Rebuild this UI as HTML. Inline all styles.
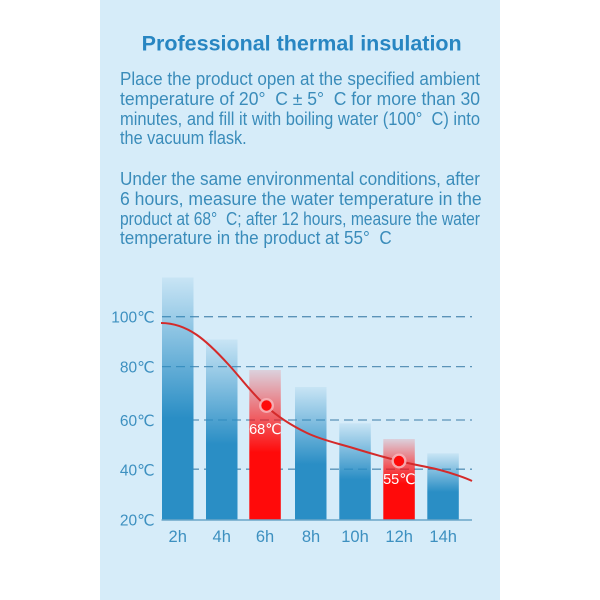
<!DOCTYPE html>
<html>
<head>
<meta charset="utf-8">
<style>
html,body{margin:0;padding:0;background:#fff;}
svg{display:block;}
</style>
</head>
<body>
<svg width="600" height="600" viewBox="0 0 600 600" xmlns="http://www.w3.org/2000/svg">
  <defs>
    <linearGradient id="gb" x1="0" y1="0" x2="0" y2="1">
      <stop offset="0" stop-color="#2a8ec5" stop-opacity="0.08"/>
      <stop offset="0.58" stop-color="#2a8ec5" stop-opacity="1"/>
      <stop offset="1" stop-color="#2a8ec5" stop-opacity="1"/>
    </linearGradient>
    <linearGradient id="gr" x1="0" y1="0" x2="0" y2="1">
      <stop offset="0" stop-color="#ff0a0a" stop-opacity="0.12"/>
      <stop offset="0.55" stop-color="#ff0a0a" stop-opacity="1"/>
      <stop offset="1" stop-color="#ff0a0a" stop-opacity="1"/>
    </linearGradient>
  </defs>
  <rect x="0" y="0" width="600" height="600" fill="#ffffff"/>
  <rect x="100" y="0" width="400" height="600" fill="#d6ecf9"/>

  <!-- Title -->
  <text x="141.7" y="50.5" textLength="320" lengthAdjust="spacingAndGlyphs" font-family="Liberation Sans, sans-serif" font-weight="bold" font-size="21" fill="#2886c2">Professional thermal insulation</text>

  <!-- Body text -->
  <g font-family="Liberation Sans, DejaVu Sans, sans-serif" font-size="18.3" fill="#3a8cba">
    <text x="120" y="85" textLength="360" lengthAdjust="spacingAndGlyphs">Place the product open at the specified ambient</text>
    <text x="120" y="105" textLength="360" lengthAdjust="spacingAndGlyphs">temperature of 20°&#160;&#160;C ± 5°&#160;&#160;C for more than 30</text>
    <text x="120" y="125" textLength="360" lengthAdjust="spacingAndGlyphs">minutes, and fill it with boiling water (100°&#160;&#160;C) into</text>
    <text x="120" y="144" textLength="126.7" lengthAdjust="spacingAndGlyphs">the vacuum flask.</text>
    <text x="120" y="185" textLength="360" lengthAdjust="spacingAndGlyphs">Under the same environmental conditions, after</text>
    <text x="120" y="205" textLength="361.7" lengthAdjust="spacingAndGlyphs">6 hours, measure the water temperature in the</text>
    <text x="120" y="225" textLength="360" lengthAdjust="spacingAndGlyphs">product at 68°&#160;&#160;C; after 12 hours, measure the water</text>
    <text x="120" y="244" textLength="271.7" lengthAdjust="spacingAndGlyphs">temperature in the product at 55°&#160;&#160;C</text>
  </g>

  <!-- Gridlines -->
  <g stroke="#5b93b8" stroke-width="1.3" stroke-dasharray="9 5">
    <line x1="162" y1="316.7" x2="472" y2="316.7"/>
    <line x1="162" y1="366.6" x2="472" y2="366.6"/>
    <line x1="162" y1="420" x2="472" y2="420"/>
    <line x1="162" y1="469.2" x2="472" y2="469.2"/>
  </g>

  <!-- Bars -->
  <rect x="162" y="277.5" width="31.5" height="242.5" fill="url(#gb)"/>
  <rect x="206" y="339.5" width="31.5" height="180.5" fill="url(#gb)"/>
  <rect x="249.3" y="370" width="31.5" height="150" fill="url(#gr)"/>
  <rect x="295" y="387" width="31.5" height="133" fill="url(#gb)"/>
  <rect x="339.3" y="423.3" width="31.5" height="96.7" fill="url(#gb)"/>
  <rect x="383.3" y="439" width="31.5" height="81" fill="url(#gr)"/>
  <rect x="427.3" y="453.3" width="31.5" height="66.7" fill="url(#gb)"/>

  <!-- Baseline -->
  <line x1="161.5" y1="520" x2="472" y2="520" stroke="#6aa5c8" stroke-width="1.5"/>

  <!-- Curve -->
  <path d="M161,323 C188,323 207,341 228,364 C239,375.7 252.8,394.5 266,406 C279.3,418.2 292.5,426 307,433 C321.5,440 337.7,443.3 353,448 C368.3,452.7 384.5,457.3 399,461 C413.5,464.7 427.8,466.8 440,470 C452.2,473.2 466.7,478.3 472,481" fill="none" stroke="#d42a2a" stroke-width="2"/>

  <!-- Dots -->
  <circle cx="266.5" cy="405.5" r="7.5" fill="#f8b4b8" fill-opacity="0.85"/>
  <circle cx="266.5" cy="405.5" r="5.2" fill="#ff0a0a"/>
  <circle cx="399" cy="461" r="7.5" fill="#f8b4b8" fill-opacity="0.85"/>
  <circle cx="399" cy="461" r="5.2" fill="#ff0a0a"/>

  <!-- Value labels -->
  <g font-family="Liberation Sans, DejaVu Sans, sans-serif" font-size="14.5" fill="#ffffff" text-anchor="middle">
    <text x="265.3" y="434">68℃</text>
    <text x="399.3" y="484">55℃</text>
  </g>

  <!-- Y labels -->
  <g font-family="Liberation Sans, DejaVu Sans, sans-serif" font-size="15.5" fill="#3d90c0" text-anchor="end">
    <text x="154.5" y="322.5">100℃</text>
    <text x="154.5" y="372.5">80℃</text>
    <text x="154.5" y="425.8">60℃</text>
    <text x="154.5" y="475.5">40℃</text>
    <text x="154.5" y="525.5">20℃</text>
  </g>

  <!-- X labels -->
  <g font-family="Liberation Sans, DejaVu Sans, sans-serif" font-size="16.5" fill="#3d90c0" text-anchor="middle">
    <text x="177.7" y="542">2h</text>
    <text x="221.7" y="542">4h</text>
    <text x="265" y="542">6h</text>
    <text x="311" y="542">8h</text>
    <text x="355" y="542">10h</text>
    <text x="399.2" y="542">12h</text>
    <text x="443.2" y="542">14h</text>
  </g>
</svg>
</body>
</html>
